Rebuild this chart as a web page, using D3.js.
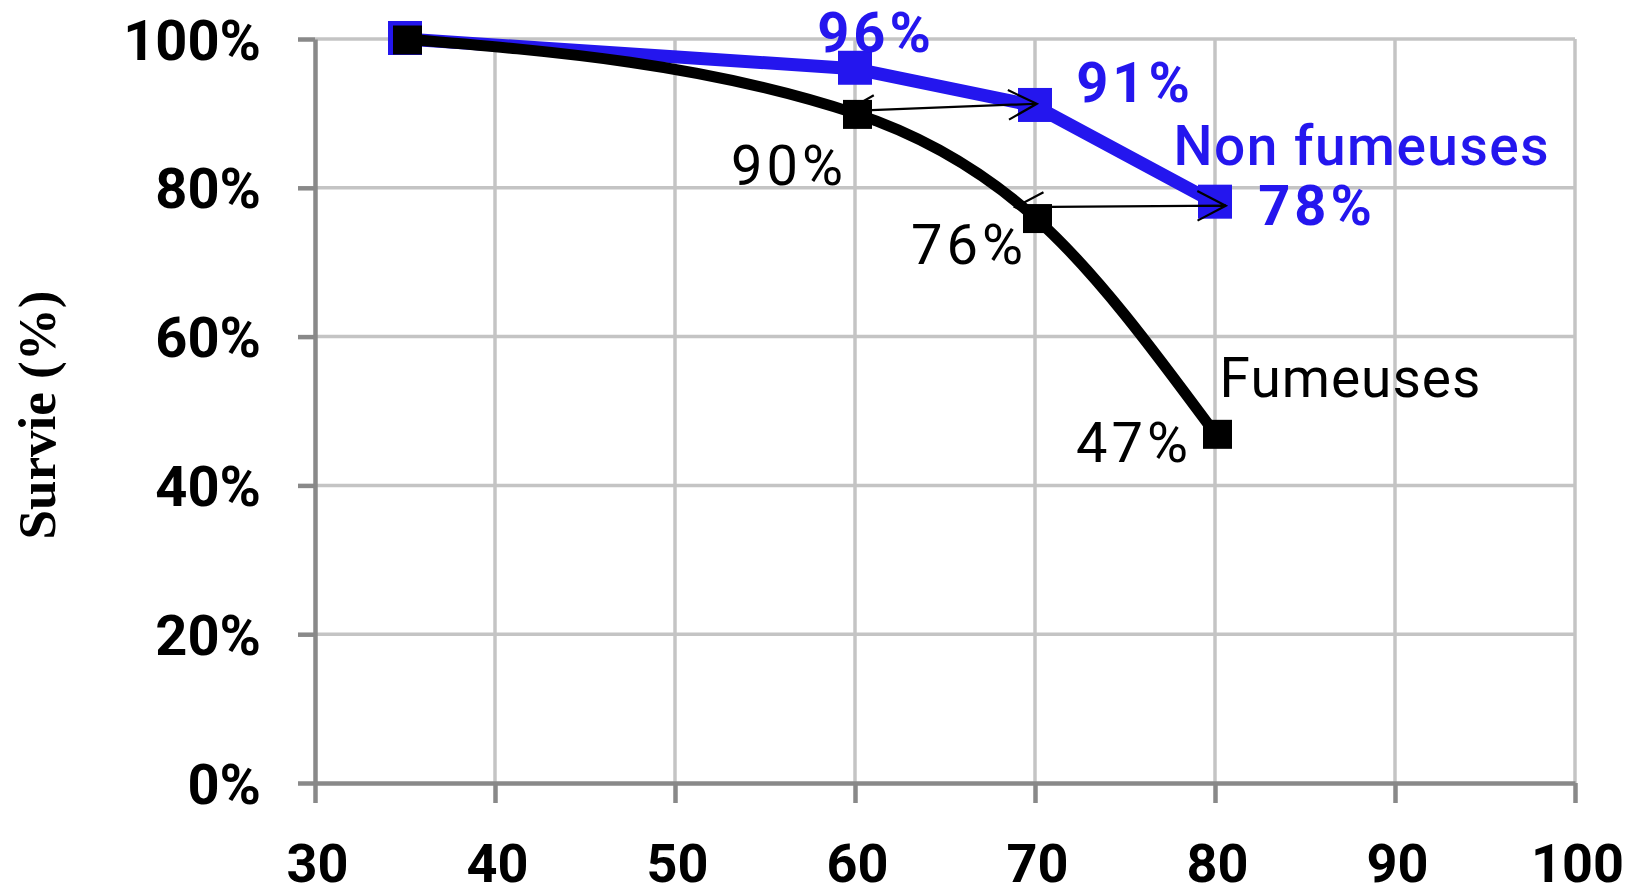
<!DOCTYPE html>
<html>
<head>
<meta charset="utf-8">
<script src="https://cdn.jsdelivr.net/npm/d3@7"></script>
<style>
  html, body { margin: 0; padding: 0; background: #ffffff; }
  svg { display: block; }
</style>
</head>
<body>
<svg id="chart" width="1632" height="894"></svg>
<script>
// ---- data ----
const ages = [35, 60, 70, 80];
const nonFumeuses = [100, 96, 91, 78];
const fumeuses = [100, 90, 76, 47];
const xTicks = [30, 40, 50, 60, 70, 80, 90, 100];
const yTicks = [0, 20, 40, 60, 80, 100];
const yTickLabels = ["0%", "20%", "40%", "60%", "80%", "100%"];
const yTitle = "Survie (%)";
const nonLabels = ["", "96%", "91%", "78%"];
const fumLabels = ["", "90%", "76%", "47%"];
const nonName = "Non fumeuses";
const fumName = "Fumeuses";
// arrows: [age, value] of tail and head
const arrowsFrom = [[59.5, 90.3], [68.9, 77.4]];
const arrowsTo = [[70.1, 91.3], [80.6, 77.6]];

// ---- layout / styles ----
const BLUE = "#2416ee";
const AXIS = "#898989";
const GRID = "#c4c4c4";
const FONT = "Roboto, 'Noto Sans', sans-serif";

const svg = d3.select("#chart");
const x = d3.scaleLinear().domain([30, 100]).range([315, 1575]);
const y = d3.scaleLinear().domain([0, 100]).range([783, 39]);

// gridlines
const grid = svg.append("g");
grid.selectAll("line.h").data(yTicks.filter(d => d > 0)).join("line")
  .attr("x1", x(30)).attr("x2", x(100))
  .attr("y1", d => y(d)).attr("y2", d => y(d))
  .attr("stroke", GRID).attr("stroke-width", 3.5);
grid.selectAll("line.v").data(xTicks.filter(d => d > 30)).join("line")
  .attr("x1", d => x(d)).attr("x2", d => x(d))
  .attr("y1", y(0)).attr("y2", y(100))
  .attr("stroke", GRID).attr("stroke-width", 3.5);

// axes
const yAxis = d3.axisLeft(y).tickValues(yTicks).tickSize(17).tickSizeOuter(0).tickPadding(37)
  .tickFormat((d, i) => yTickLabels[i]);
const gy = svg.append("g").attr("transform", `translate(${x(30)},0)`).call(yAxis);
const xAxis = d3.axisBottom(x).tickValues(xTicks).tickSize(20).tickSizeOuter(0).tickPadding(41)
  .tickFormat(d3.format("d"));
const gx = svg.append("g").attr("transform", `translate(0,${y(0)})`).call(xAxis);

[gx, gy].forEach(g => {
  g.select(".domain").attr("stroke", AXIS).attr("stroke-width", 4.5);
  g.selectAll(".tick line").attr("stroke", AXIS).attr("stroke-width", 4.5);
  g.selectAll(".tick text").attr("fill", "#000").style("font-family", FONT)
    .style("font-weight", 700);
});
gy.selectAll(".tick text").style("font-size", "56px").attr("dy", "0.36em");
gx.selectAll(".tick text").style("font-size", "54px").attr("dx", 2);

// y title
svg.append("text")
  .attr("transform", `translate(55,415) rotate(-90)`)
  .attr("text-anchor", "middle")
  .style("font-family", "'Liberation Serif', 'Times New Roman', serif")
  .style("font-weight", 700).style("font-size", "53px")
  .attr("fill", "#000")
  .text(yTitle);

const nonPts = ages.map((a, i) => [a, nonFumeuses[i]]);
const fumPts = ages.map((a, i) => [a, fumeuses[i]]);

// blue series
svg.append("path")
  .datum(nonPts)
  .attr("d", d3.line().x(d => x(d[0])).y(d => y(d[1])))
  .attr("fill", "none").attr("stroke", BLUE).attr("stroke-width", 13)
  .attr("stroke-linejoin", "round");
svg.append("g").selectAll("rect").data(nonPts).join("rect")
  .attr("x", d => x(d[0]) - 17).attr("y", d => y(d[1]) - 18)
  .attr("width", 34).attr("height", 34).attr("fill", BLUE);

// black series (smoothed)
svg.append("path")
  .datum(fumPts)
  .attr("d", d3.line().curve(d3.curveMonotoneX).x(d => x(d[0])).y(d => y(d[1])))
  .attr("fill", "none").attr("stroke", "#000").attr("stroke-width", 11);
svg.append("g").selectAll("rect").data(fumPts).join("rect")
  .attr("x", d => x(d[0]) - 12).attr("y", d => y(d[1]) - 13.5)
  .attr("width", 29).attr("height", 29).attr("fill", "#000");

// arrows (open heads at both ends)
const arrowG = svg.append("g").attr("fill", "none").attr("stroke", "#000").attr("stroke-width", 2.2);
arrowsFrom.forEach((f, i) => {
  const t = arrowsTo[i];
  const x1 = x(f[0]), y1 = y(f[1]), x2 = x(t[0]), y2 = y(t[1]);
  const ang = Math.atan2(y2 - y1, x2 - x1);
  const L = 32, spread = 0.48;
  const head = (px, py, a) => {
    const b1 = [px - L * Math.cos(a - spread), py - L * Math.sin(a - spread)];
    const b2 = [px - L * Math.cos(a + spread), py - L * Math.sin(a + spread)];
    return `M${b1[0]},${b1[1]}L${px},${py}L${b2[0]},${b2[1]}`;
  };
  arrowG.append("path").attr("d", `M${x1},${y1}L${x2},${y2}` + head(x2, y2, ang) + head(x1, y1, ang + Math.PI));
});

// labels
const LS = 4; // letter spacing of value labels
const nonOffsets = [null, [19, -17], [98, -4], [100, 22]];
const fumOffsets = [null, [-68, 72], [-68, 46], [-83, 29]];
const labelG = svg.append("g").style("font-family", FONT).attr("text-anchor", "middle");
nonPts.forEach((p, i) => {
  if (!nonLabels[i]) return;
  labelG.append("text").attr("x", x(p[0]) + nonOffsets[i][0] + LS / 2).attr("y", y(p[1]) + nonOffsets[i][1])
    .attr("fill", BLUE).style("font-weight", 700).style("font-size", "56px")
    .style("letter-spacing", LS + "px").text(nonLabels[i]);
});
fumPts.forEach((p, i) => {
  if (!fumLabels[i]) return;
  labelG.append("text").attr("x", x(p[0]) + fumOffsets[i][0] + LS / 2).attr("y", y(p[1]) + fumOffsets[i][1])
    .attr("fill", "#000").style("font-weight", 400).style("font-size", "56px")
    .style("letter-spacing", LS + "px").text(fumLabels[i]);
});
const lastNon = nonPts[nonPts.length - 1];
labelG.append("text").attr("x", x(lastNon[0]) + 146 + 0.75).attr("y", y(lastNon[1]) - 38)
  .attr("fill", BLUE).style("font-weight", 500).style("font-size", "55px")
  .style("letter-spacing", "1.5px").text(nonName);
const lastFum = fumPts[fumPts.length - 1];
labelG.append("text").attr("x", x(lastFum[0]) + 135 + 0.5).attr("y", y(lastFum[1]) - 36)
  .attr("fill", "#000").style("font-weight", 400).style("font-size", "55px")
  .style("letter-spacing", "1px").text(fumName);
</script>
</body>
</html>
